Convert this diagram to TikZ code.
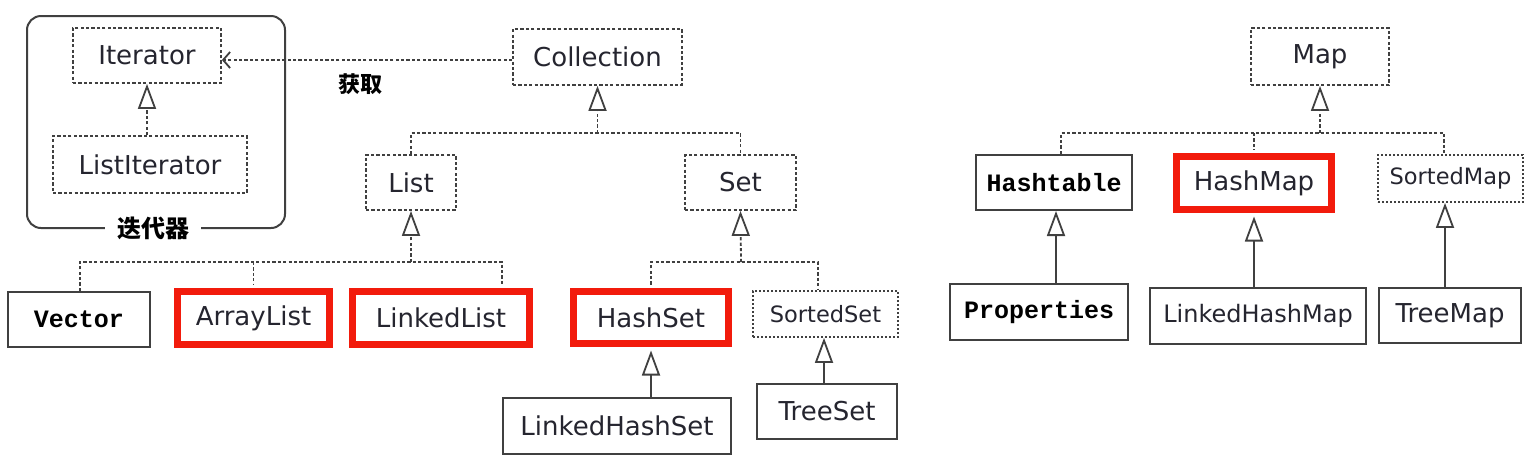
\documentclass[tikz,border=0pt]{standalone}
\usepackage{fontspec}
\setmainfont{DejaVu Sans}
\newfontfamily\monob{Liberation Mono}
\newfontfamily\cjk{Noto Sans CJK SC}
\usetikzlibrary{arrows.meta}
\definecolor{linec}{HTML}{404040}
\definecolor{txt}{HTML}{25252F}
\definecolor{hl}{HTML}{F21B0C}
\begin{document}
\begin{tikzpicture}[x=1pt,y=-1pt,
 box/.style={rectangle, inner sep=0pt, text=txt, font=\fontsize{26}{30}\selectfont},
 dbox/.style={box, draw=linec, line width=1.8pt, dash pattern=on 3.2pt off 2.2pt},
 obox/.style={box, draw=linec, line width=1.8pt, dash pattern=on 2pt off 2pt, font=\fontsize{22.5}{26}\selectfont},
 sbox/.style={box, draw=linec, line width=2pt},
 rbox/.style={box, draw=hl, line width=7pt},
 mono/.style={font=\fontsize{25}{28}\monob\bfseries, text=black},
 dline/.style={draw=linec, line width=1.8pt, dash pattern=on 3.2pt off 2.2pt},
 sline/.style={draw=linec, line width=2pt},
 inh/.style={-{Triangle[open,length=25pt,width=18pt,line width=1.8pt]}},
 dep/.style={-{Straight Barb[length=7pt,width=16pt,line width=1.8pt]}},
 cjklabel/.style={text=black, inner sep=0pt}
]
\useasboundingbox[fill=white] (0,0) rectangle (1533,467);

% group box
\node[draw=linec, line width=2pt, rounded corners=14pt, minimum width=258pt, minimum height=212pt, inner sep=0pt] (grp) at (156,122) {};
\node[cjklabel, fill=white, inner xsep=12pt, inner ysep=3pt, font=\cjk\bfseries\fontsize{24}{26}\selectfont] (grplabel) at (153,228) {迭代器};

% nodes
\node[dbox, minimum width=148pt, minimum height=55pt] (iter) at (147,55.5) {Iterator};
\node[dbox, minimum width=194pt, minimum height=57pt] (liter) at (150,164.5) {ListIterator};
\node[dbox, minimum width=169pt, minimum height=56pt] (coll) at (597.5,57) {Collection};
\node[dbox, minimum width=90pt, minimum height=55pt] (list) at (411,182.5) {List};
\node[dbox, minimum width=111pt, minimum height=55pt] (set) at (740.5,182.5) {Set};
\node[sbox, mono, minimum width=142pt, minimum height=55pt] (vector) at (79,319.5) {Vector};
\node[rbox, minimum width=152pt, minimum height=53pt] (alist) at (253.5,318) {ArrayList};
\node[rbox, minimum width=177pt, minimum height=53pt] (llist) at (441,318) {LinkedList};
\node[rbox, minimum width=155pt, minimum height=52pt] (hset) at (651,317.5) {HashSet};
\node[obox, minimum width=145pt, minimum height=46pt] (sset) at (825.5,314) {SortedSet};
\node[sbox, minimum width=228pt, minimum height=56pt] (lhset) at (617,426) {LinkedHashSet};
\node[sbox, minimum width=140pt, minimum height=55pt] (tset) at (827,411.5) {TreeSet};
\node[dbox, minimum width=138pt, minimum height=57pt] (map) at (1320,56.5) {Map};
\node[sbox, mono, minimum width=156pt, minimum height=55pt] (htable) at (1054,182.5) {Hashtable};
\node[rbox, minimum width=155pt, minimum height=53pt] (hmap) at (1254,183) {HashMap};
\node[obox, minimum width=145pt, minimum height=47pt] (smap) at (1450.5,178.5) {SortedMap};
\node[sbox, mono, minimum width=178pt, minimum height=56pt] (props) at (1039,312) {Properties};
\node[sbox, minimum width=216pt, minimum height=56pt, font=\fontsize{24}{28}\selectfont] (lhmap) at (1258,316) {LinkedHashMap};
\node[sbox, minimum width=142pt, minimum height=55pt] (tmap) at (1450,315.5) {TreeMap};

\node[cjklabel, font=\cjk\bfseries\fontsize{22}{24}\selectfont] (get) at (360,84) {获取};

% iterator
\draw[dline, inh] (liter.north -| iter.south) -- (iter.south);
\draw[dline, dep] ([yshift=-3pt]coll.west) -- ([yshift=-3pt]coll.west -| iter.east);

% collection tree
\coordinate (cj) at (597.5,133);
\draw[dline, inh] (cj) -- (coll.south);
\draw[dline] (list.north) |- (cj) -| (set.north);

% list tree
\coordinate (lj) at (411,262);
\coordinate (lja) at (80,262);
\coordinate (ljc) at (502,262);
\draw[dline, inh] (lj) -- (list.south);
\draw[dline] (lja |- vector.north) -- (lja) -- (ljc) -- ([yshift=3.5pt]ljc |- llist.north);
\draw[dline] (alist.north |- lj) -- ([yshift=3.5pt]alist.north);

% set tree
\coordinate (sj) at (741,262);
\coordinate (sjb) at (818,262);
\draw[dline, inh] (sj) -- (set.south);
\draw[dline] ([yshift=3.5pt]hset.north) |- (sjb) -- (sjb |- sset.north);
\draw[sline, inh] (lhset.north -| hset.south) -- ([yshift=-3.5pt]hset.south);
\draw[sline, inh] (tset.north -| 824,0) -- (sset.south -| 824,0);

% map tree
\coordinate (mj) at (1320,133);
\coordinate (mja) at (1061,133);
\coordinate (mjc) at (1444,133);
\draw[dline, inh] (mj) -- (map.south);
\draw[dline] (mja |- htable.north) -- (mja) -- (mjc) -- (mjc |- smap.north);
\draw[dline] (hmap.north |- mj) -- ([yshift=3.5pt]hmap.north);
\draw[sline, inh] (props.north -| 1056,0) -- (htable.south -| 1056,0);
\draw[sline, inh] (lhmap.north -| hmap.south) -- ([yshift=-3.5pt]hmap.south);
\draw[sline, inh] (tmap.north -| 1445,0) -- (smap.south -| 1445,0);
\end{tikzpicture}
\end{document}
